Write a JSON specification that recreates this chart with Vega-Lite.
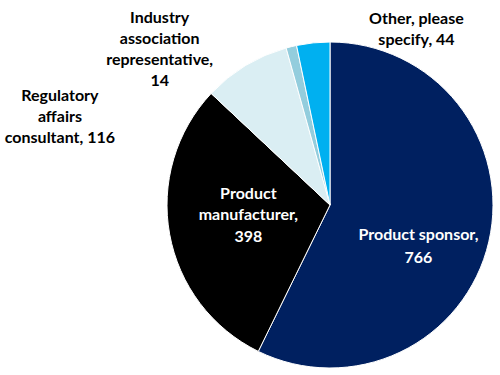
{
  "$schema": "https://vega.github.io/schema/vega-lite/v6.json",
  "width": 340,
  "height": 350,
  "autosize": {"type": "none"},
  "padding": {"left": 160, "top": 30, "right": 0, "bottom": 0},
  "background": "white",
  "config": {"view": {"stroke": null}, "text": {"lineBreak": "\n"}},
  "data": {
    "values": [
      {"category": "Product sponsor", "count": 766, "order": 1, "label": "Product sponsor,\n766"},
      {"category": "Product manufacturer", "count": 398, "order": 2, "label": "Product\nmanufacturer,\n398"},
      {"category": "Regulatory affairs consultant", "count": 116, "order": 3, "label": "Regulatory\naffairs\nconsultant, 116"},
      {"category": "Industry association representative", "count": 14, "order": 4, "label": "Industry\nassociation\nrepresentative,\n14"},
      {"category": "Other, please specify", "count": 44, "order": 5, "label": "Other, please\nspecify, 44"}
    ]
  },
  "transform": [
    {"window": [{"op": "sum", "field": "count", "as": "cum"}], "sort": [{"field": "order"}], "frame": [null, 0]},
    {"calculate": "datum.cum - datum.count", "as": "start"}
  ],
  "layer": [
    {
      "mark": {"type": "arc", "outerRadius": 163, "stroke": "white", "strokeWidth": 1},
      "encoding": {
        "theta": {"field": "start", "type": "quantitative", "scale": {"domain": [0, 1338]}},
        "theta2": {"field": "cum"},
        "color": {
          "field": "category", "type": "nominal", "legend": null,
          "scale": {
            "domain": ["Product sponsor", "Product manufacturer", "Regulatory affairs consultant", "Industry association representative", "Other, please specify"],
            "range": ["#002060", "#000000", "#DAEEF3", "#93CDDD", "#00B0F0"]
          }
        }
      }
    },
    {
      "transform": [{"filter": "datum.order === 1"}, {"calculate": "datum.cum - datum.count/2", "as": "mid"}],
      "mark": {"type": "text", "radius": 100, "dx": -9, "dy": 7, "font": "Lato", "fontWeight": "bold", "fontSize": 16, "lineHeight": 23, "color": "white", "align": "center", "baseline": "middle"},
      "encoding": {"theta": {"field": "mid", "type": "quantitative"}, "text": {"field": "label"}}
    },
    {
      "transform": [{"filter": "datum.order === 2"}, {"calculate": "datum.cum - datum.count/2", "as": "mid"}],
      "mark": {"type": "text", "radius": 83, "dx": 0, "dy": -26, "font": "Lato", "fontWeight": "bold", "fontSize": 16, "lineHeight": 21.5, "color": "white", "align": "center", "baseline": "middle"},
      "encoding": {"theta": {"field": "mid", "type": "quantitative"}, "text": {"field": "label"}}
    },
    {
      "transform": [{"filter": "datum.order === 3"}, {"calculate": "datum.cum - datum.count/2", "as": "mid"}],
      "mark": {"type": "text", "radius": 170, "dx": -182, "dy": 36, "font": "Lato", "fontWeight": "bold", "fontSize": 16, "lineHeight": 21, "color": "black", "align": "center", "baseline": "middle"},
      "encoding": {"theta": {"field": "mid", "type": "quantitative"}, "text": {"field": "label"}}
    },
    {
      "transform": [{"filter": "datum.order === 4"}, {"calculate": "datum.cum - datum.count/2", "as": "mid"}],
      "mark": {"type": "text", "radius": 170, "dx": -130, "dy": -22, "font": "Lato", "fontWeight": "bold", "fontSize": 16, "lineHeight": 21, "color": "black", "align": "center", "baseline": "middle"},
      "encoding": {"theta": {"field": "mid", "type": "quantitative"}, "text": {"field": "label"}}
    },
    {
      "transform": [{"filter": "datum.order === 5"}, {"calculate": "datum.cum - datum.count/2", "as": "mid"}],
      "mark": {"type": "text", "radius": 170, "dx": 104, "dy": -17, "font": "Lato", "fontWeight": "bold", "fontSize": 16, "lineHeight": 21, "color": "black", "align": "center", "baseline": "middle"},
      "encoding": {"theta": {"field": "mid", "type": "quantitative"}, "text": {"field": "label"}}
    }
  ]
}
